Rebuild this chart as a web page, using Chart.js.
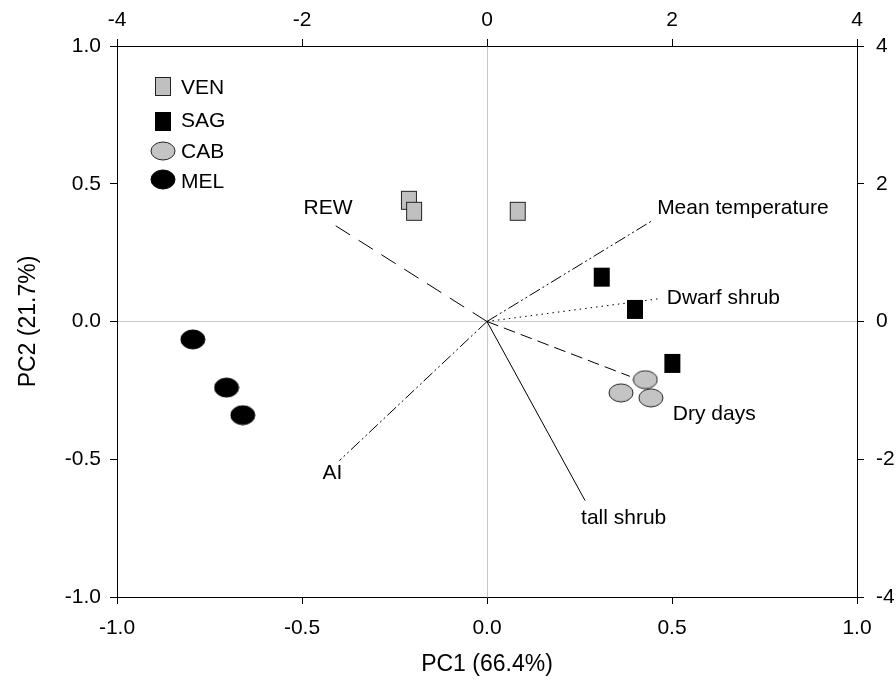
<!DOCTYPE html>
<html>
<head>
<meta charset="utf-8">
<script src="https://cdn.jsdelivr.net/npm/chart.js@4.4.1/dist/chart.umd.min.js"></script>
<style>
  html, body { margin: 0; padding: 0; background: #fff; }
  #wrap { width: 896px; height: 688px; }
</style>
</head>
<body>
<div id="wrap"><canvas id="c" width="896" height="688"></canvas></div>
<script>
// ---------- DATA ----------
const groupNames = ['VEN', 'SAG', 'CAB', 'MEL'];
const venX = [-0.211, -0.197, 0.083];
const venY = [0.440, 0.400, 0.400];
const sagX = [0.310, 0.400, 0.501];
const sagY = [0.161, 0.044, -0.152];
const cabX = [0.428, 0.362, 0.443];
const cabY = [-0.211, -0.259, -0.277];
const melX = [-0.795, -0.704, -0.660];
const melY = [-0.065, -0.240, -0.340];

const vectorNames = ['REW', 'Mean temperature', 'Dwarf shrub', 'Dry days', 'AI', 'tall shrub'];
const vectorX = [-0.419, 0.449, 0.467, 0.386, -0.399, 0.265];
const vectorY = [0.356, 0.368, 0.083, -0.199, -0.505, -0.650];

const primaryTicks = [-1.0, -0.5, 0.0, 0.5, 1.0];
const secondaryTicks = [-4, -2, 0, 2, 4];

const xTitle = 'PC1 (66.4%)';
const yTitle = 'PC2 (21.7%)';

// ---------- STYLES ----------
const FONT = 'Liberation Sans, Arial, sans-serif';
const vectorDashes = [
  [17, 10],                 // REW: long dash
  [12, 3, 2, 3, 2, 3],      // Mean temperature: dash-dot-dot
  [1.5, 4],                 // Dwarf shrub: dotted
  [12, 6],                  // Dry days: dash
  [12, 3, 2, 3, 2, 3],      // AI: dash-dot-dot
  []                        // tall shrub: solid
];
// label placement relative to the vector tip (dx, dy, align)
const vectorLabelPlacement = [
  { dx: -4, dy: -15, align: 'center' },
  { dx: 4, dy: -12, align: 'left' },
  { dx: 7, dy: 0, align: 'left' },
  { dx: 43, dy: 38, align: 'left' },
  { dx: -7, dy: 13, align: 'center' },
  { dx: -4, dy: 18, align: 'left' }
];

function makeMarker(shape, w, h, fill, stroke) {
  const c = document.createElement('canvas');
  c.width = w + 2; c.height = h + 2;
  const g = c.getContext('2d');
  g.fillStyle = fill;
  g.strokeStyle = stroke;
  g.lineWidth = 1;
  if (shape === 'rect') {
    g.fillRect(1, 1, w, h);
    if (stroke) g.strokeRect(1.5, 1.5, w - 1, h - 1);
  } else {
    g.beginPath();
    g.ellipse(c.width / 2, c.height / 2, w / 2, h / 2, 0, 0, Math.PI * 2);
    g.fill();
    if (stroke) g.stroke();
  }
  return c;
}
const markers = [
  makeMarker('rect', 16, 19, '#c0c0c0', '#222'),
  makeMarker('rect', 16, 19, '#000', '#000'),
  makeMarker('ellipse', 24, 18, '#c4c4c4', '#222'),
  makeMarker('ellipse', 24, 19, '#000', '#000')
];

function pts(xs, ys) { return xs.map((x, i) => ({ x: x, y: ys[i] })); }
const groupData = [pts(venX, venY), pts(sagX, sagY), pts(cabX, cabY), pts(melX, melY)];

const datasets = [];
vectorNames.forEach((n, i) => {
  datasets.push({
    label: n,
    data: [{ x: 0, y: 0 }, { x: vectorX[i], y: vectorY[i] }],
    showLine: true,
    borderColor: '#000',
    borderWidth: 1,
    borderDash: vectorDashes[i],
    pointRadius: 0,
    fill: false,
    order: 2
  });
});
groupNames.forEach((n, i) => {
  datasets.push({
    label: n,
    data: groupData[i],
    pointStyle: markers[i],
    pointRadius: 8,
    showLine: false,
    order: 1
  });
});

const vectorLabelPlugin = {
  id: 'vectorLabels',
  afterDatasetsDraw(chart) {
    const ctx = chart.ctx;
    ctx.save();
    ctx.font = '21px ' + FONT;
    ctx.fillStyle = '#000';
    ctx.textBaseline = 'middle';
    vectorNames.forEach((n, i) => {
      const meta = chart.getDatasetMeta(i);
      const tip = meta.data[1];
      const p = vectorLabelPlacement[i];
      ctx.textAlign = p.align;
      ctx.fillText(n, tip.x + p.dx, tip.y + p.dy);
    });
    ctx.restore();
  }
};

const legendPlugin = {
  id: 'insideLegend',
  afterDatasetsDraw(chart) {
    const ctx = chart.ctx;
    const a = chart.chartArea;
    const mx = a.left + 46, tx = a.left + 64;
    const ys = [a.top + 40, a.top + 75, a.top + 105, a.top + 133];
    const tys = [a.top + 42, a.top + 75, a.top + 106, a.top + 136];
    ctx.save();
    ctx.font = '21px ' + FONT;
    ctx.fillStyle = '#000';
    ctx.textBaseline = 'middle';
    ctx.textAlign = 'left';
    groupNames.forEach((n, i) => {
      const m = markers[i];
      ctx.drawImage(m, Math.round(mx - m.width / 2), Math.round(ys[i] - m.height / 2));
      ctx.fillText(n, tx, tys[i]);
    });
    ctx.restore();
  }
};

const zeroGrid = (c) => (c.tick && c.tick.value === 0) ? '#c8c8c8' : 'rgba(0,0,0,0)';
const tickFont = { family: FONT, size: 21 };
const titleFont = { family: FONT, size: 23 };

new Chart(document.getElementById('c'), {
  type: 'scatter',
  data: { datasets: datasets },
  options: {
    responsive: false,
    devicePixelRatio: 1,
    animation: false,
    events: [],
    layout: { padding: 0 },
    plugins: { legend: { display: false }, tooltip: { enabled: false } },
    scales: {
      x: {
        type: 'linear', position: 'bottom', min: -1, max: 1,
        afterBuildTicks: s => { s.ticks = primaryTicks.map(v => ({ value: v })); },
        afterFit: s => { s.height = 91; },
        ticks: { font: tickFont, color: '#000', padding: 12, maxRotation: 0, callback: v => Number(v).toFixed(1) },
        grid: { color: zeroGrid, tickColor: '#000', tickLength: 7, lineWidth: 1 },
        border: { display: true, color: '#000', width: 1 },
        title: { display: true, text: xTitle, font: titleFont, color: '#000', padding: { top: 10, bottom: 10 } }
      },
      x2: {
        type: 'linear', position: 'top', min: -4, max: 4,
        afterBuildTicks: s => { s.ticks = secondaryTicks.map(v => ({ value: v })); },
        afterFit: s => { s.height = 46; },
        ticks: { font: tickFont, color: '#000', padding: 6, maxRotation: 0, callback: v => String(v) },
        grid: { drawOnChartArea: false, color: '#000', tickColor: '#000', tickLength: 7 },
        border: { display: true, color: '#000', width: 1 }
      },
      y: {
        type: 'linear', position: 'left', min: -1, max: 1,
        afterBuildTicks: s => { s.ticks = primaryTicks.map(v => ({ value: v })); },
        afterFit: s => { s.width = 117; },
        ticks: { font: tickFont, color: '#000', padding: 9, callback: v => Number(v).toFixed(1) },
        grid: { color: zeroGrid, tickColor: '#000', tickLength: 7, lineWidth: 1 },
        border: { display: true, color: '#000', width: 1 },
        title: { display: true, text: yTitle, font: titleFont, color: '#000', padding: { top: 15, bottom: 15 } }
      },
      y2: {
        type: 'linear', position: 'right', min: -4, max: 4,
        afterBuildTicks: s => { s.ticks = secondaryTicks.map(v => ({ value: v })); },
        afterFit: s => { s.width = 39; },
        ticks: { font: tickFont, color: '#000', padding: 12, callback: v => String(v) },
        grid: { drawOnChartArea: false, color: '#000', tickColor: '#000', tickLength: 7 },
        border: { display: true, color: '#000', width: 1 }
      }
    }
  },
  plugins: [vectorLabelPlugin, legendPlugin]
});
</script>
</body>
</html>
